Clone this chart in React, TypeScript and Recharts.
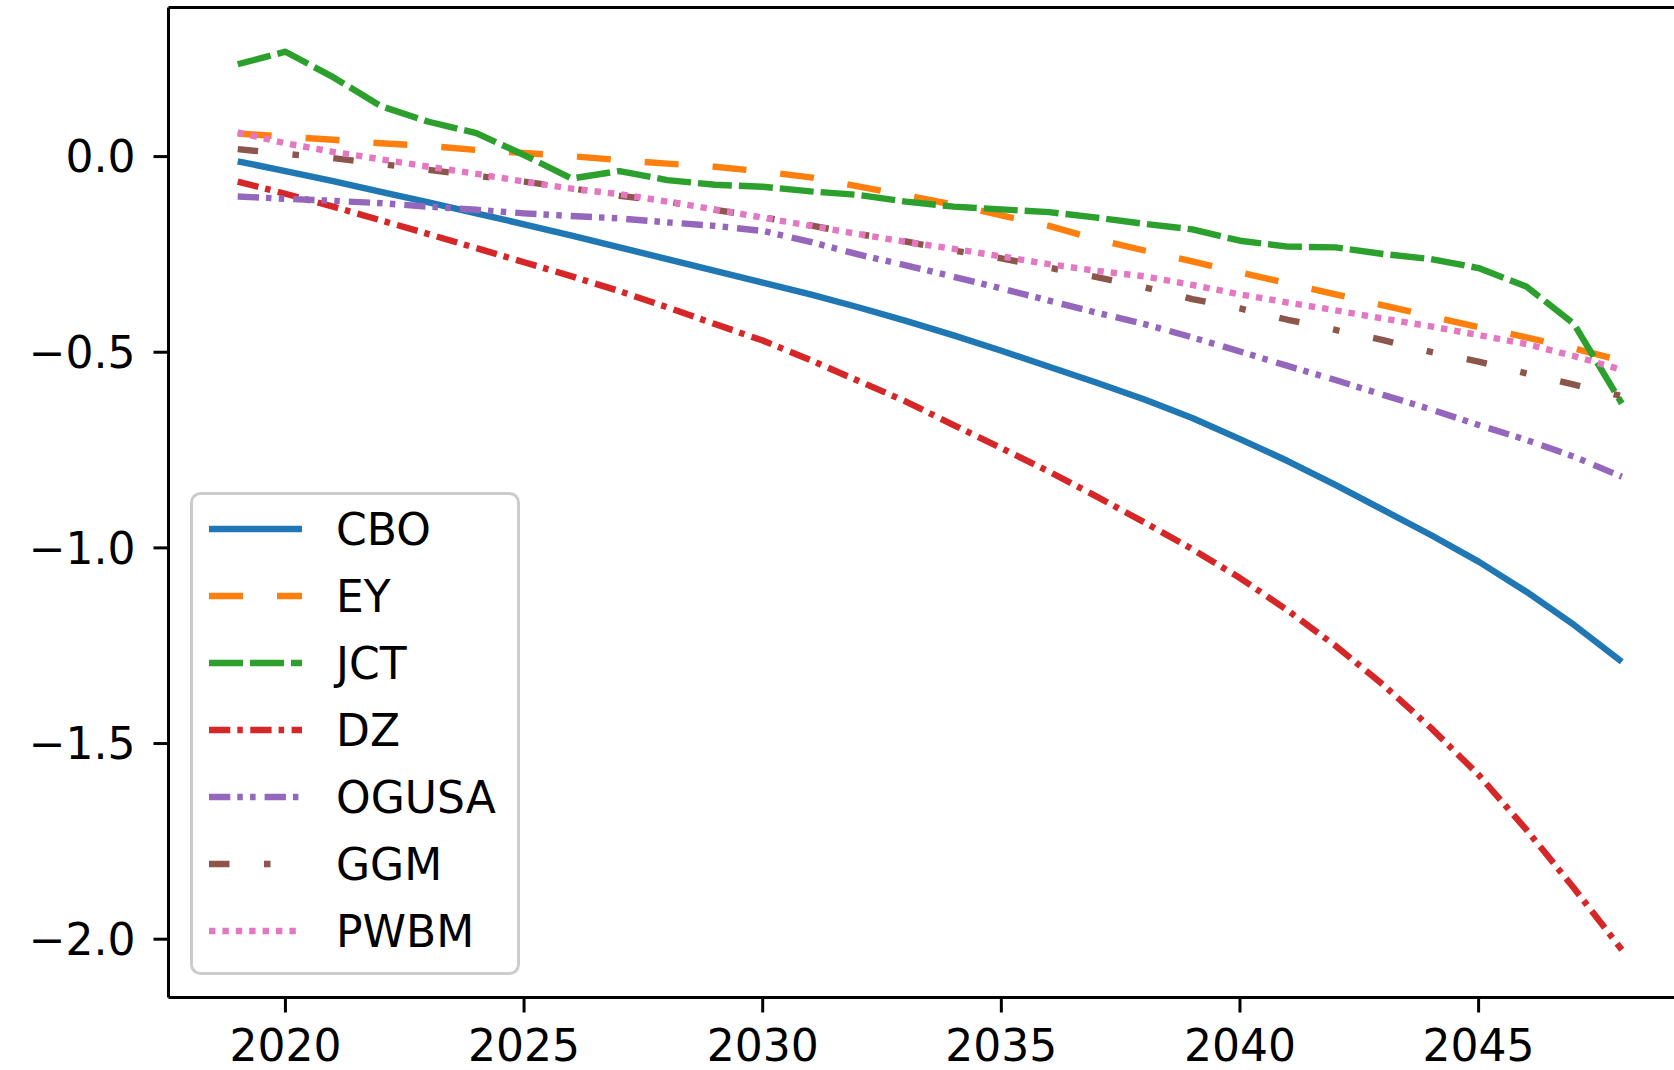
import React from 'react';
import { LineChart, Line, XAxis, YAxis, ReferenceLine } from 'recharts';

const years = [
  2019, 2020, 2021, 2022, 2023, 2024, 2025, 2026, 2027, 2028,
  2029, 2030, 2031, 2032, 2033, 2034, 2035, 2036, 2037, 2038,
  2039, 2040, 2041, 2042, 2043, 2044, 2045, 2046, 2047, 2048,
];

const cbo = [
  -0.012, -0.037, -0.063, -0.09, -0.117, -0.145, -0.173, -0.202, -0.232, -0.262,
  -0.292, -0.322, -0.352, -0.385, -0.42, -0.457, -0.496, -0.537, -0.578, -0.621,
  -0.668, -0.722, -0.778, -0.839, -0.903, -0.967, -1.035, -1.112, -1.197, -1.291,
];
const ey = [
  0.059, 0.051, 0.043, 0.034, 0.027, 0.017, 0.009, 0.001, -0.009, -0.018,
  -0.026, -0.038, -0.053, -0.076, -0.099, -0.123, -0.15, -0.177, -0.212, -0.24,
  -0.268, -0.296, -0.324, -0.352, -0.38, -0.408, -0.436, -0.462, -0.49, -0.522,
];
const jct = [
  0.236, 0.268, 0.203, 0.129, 0.089, 0.06, 0.004, -0.056, -0.037, -0.06,
  -0.072, -0.077, -0.089, -0.098, -0.115, -0.128, -0.135, -0.142, -0.156, -0.172,
  -0.186, -0.215, -0.23, -0.232, -0.249, -0.262, -0.285, -0.332, -0.428, -0.631,
];
const dz = [
  -0.064, -0.095, -0.128, -0.163, -0.198, -0.234, -0.27, -0.306, -0.344, -0.385,
  -0.428, -0.47, -0.52, -0.573, -0.626, -0.686, -0.745, -0.805, -0.869, -0.935,
  -1.003, -1.077, -1.16, -1.25, -1.35, -1.46, -1.58, -1.72, -1.87, -2.027,
];
const ogusa = [
  -0.102, -0.108, -0.113, -0.119, -0.128, -0.136, -0.145, -0.152, -0.158, -0.168,
  -0.177, -0.19, -0.218, -0.25, -0.278, -0.307, -0.337, -0.368, -0.399, -0.428,
  -0.462, -0.498, -0.535, -0.571, -0.609, -0.646, -0.686, -0.724, -0.767, -0.818,
];
const ggm = [
  0.019, 0.007, -0.004, -0.019, -0.034, -0.049, -0.064, -0.081, -0.1, -0.115,
  -0.136, -0.155, -0.176, -0.198, -0.217, -0.24, -0.26, -0.284, -0.308, -0.334,
  -0.364, -0.388, -0.417, -0.443, -0.469, -0.499, -0.524, -0.554, -0.583, -0.612,
];
const pwbm = [
  0.062, 0.034, 0.012, -0.007, -0.026, -0.044, -0.064, -0.082, -0.096, -0.115,
  -0.135, -0.156, -0.177, -0.198, -0.218, -0.236, -0.255, -0.275, -0.292, -0.306,
  -0.328, -0.352, -0.373, -0.393, -0.414, -0.434, -0.456, -0.479, -0.51, -0.545,
];

const xTicks = [2020, 2025, 2030, 2035, 2040, 2045];
const yTicks = [-2.0, -1.5, -1.0, -0.5, 0.0];

const series = [
  { key: 'CBO', values: cbo, color: '#1f77b4', dash: undefined },
  { key: 'EY', values: ey, color: '#ff7f0e', dash: '34 34' },
  { key: 'JCT', values: jct, color: '#2ca02c', dash: '34 7' },
  { key: 'DZ', values: dz, color: '#d62728', dash: '21.3 7 5.5 7.5' },
  { key: 'OGUSA', values: ogusa, color: '#9467bd', dash: '21.3 7 5.5 7.3 5.5 9' },
  { key: 'GGM', values: ggm, color: '#8c564b', dash: '20.5 34.5 6.5 34.5' },
  { key: 'PWBM', values: pwbm, color: '#e377c2', dash: '6.4 7' },
];

const data = years.map((year, i) => {
  const row: Record<string, number> = { year };
  series.forEach((s) => {
    row[s.key] = s.values[i];
  });
  return row;
});

const FONT = 'DejaVu Sans';
const LW = 6.4;
const spine = { stroke: '#000', strokeWidth: 3 };

const fmtY = (v: number) => (v < 0 ? '\u2212' : '') + Math.abs(v).toFixed(1);

function ChartLegend() {
  const w = 330;
  const h = 483;
  return (
    <svg
      width={w}
      height={h}
      style={{ position: 'absolute', left: 190, top: 492, overflow: 'visible' }}
    >
      <rect
        x={1.5}
        y={1.5}
        width={w - 3}
        height={h - 3}
        rx={9}
        ry={9}
        fill="#fff"
        fillOpacity={0.8}
        stroke="#cccccc"
        strokeWidth={3}
      />
      {series.map((s, i) => {
        const cy = 37 + i * 67;
        return (
          <g key={s.key}>
            <line
              x1={19}
              x2={112}
              y1={cy}
              y2={cy}
              stroke={s.color}
              strokeWidth={LW}
              strokeDasharray={s.dash}
            />
            <text
              x={146}
              y={cy}
              dy="0.36em"
              fontSize={44}
              fontFamily={FONT}
              fill="#000"
            >
              {s.key}
            </text>
          </g>
        );
      })}
    </svg>
  );
}

export default function App() {
  const xDomain = [2017.55, 2049.45];
  const yDomain = [-2.149, 0.381];
  return (
    <div
      style={{
        position: 'absolute',
        left: 0,
        top: 0,
        width: 1674,
        height: 1070,
        overflow: 'hidden',
        background: '#fff',
      }}
    >
      <LineChart
        width={1700}
        height={1070}
        data={data}
        margin={{ top: 7.5, right: 9, bottom: 0, left: 0 }}
      >
        <XAxis
          dataKey="year"
          type="number"
          domain={xDomain}
          ticks={xTicks}
          interval={0}
          allowDataOverflow
          height={72.5}
          tickSize={15}
          tickMargin={17}
          axisLine={spine}
          tickLine={spine}
          tick={{ fontSize: 44, fill: '#000', fontFamily: FONT }}
        />
        <YAxis
          type="number"
          domain={yDomain}
          ticks={yTicks}
          interval={0}
          allowDataOverflow
          width={168.5}
          tickSize={15}
          tickMargin={18}
          tickFormatter={fmtY}
          axisLine={spine}
          tickLine={spine}
          tick={{ fontSize: 44, fill: '#000', fontFamily: FONT }}
        />
        <ReferenceLine y={yDomain[1]} stroke="#000" strokeWidth={3} ifOverflow="visible" />
        {series.map((s) => (
          <Line
            key={s.key}
            dataKey={s.key}
            type="linear"
            stroke={s.color}
            strokeWidth={LW}
            strokeDasharray={s.dash}
            strokeLinejoin="round"
            dot={false}
            activeDot={false}
            isAnimationActive={false}
          />
        ))}
      </LineChart>
      <ChartLegend />
    </div>
  );
}
